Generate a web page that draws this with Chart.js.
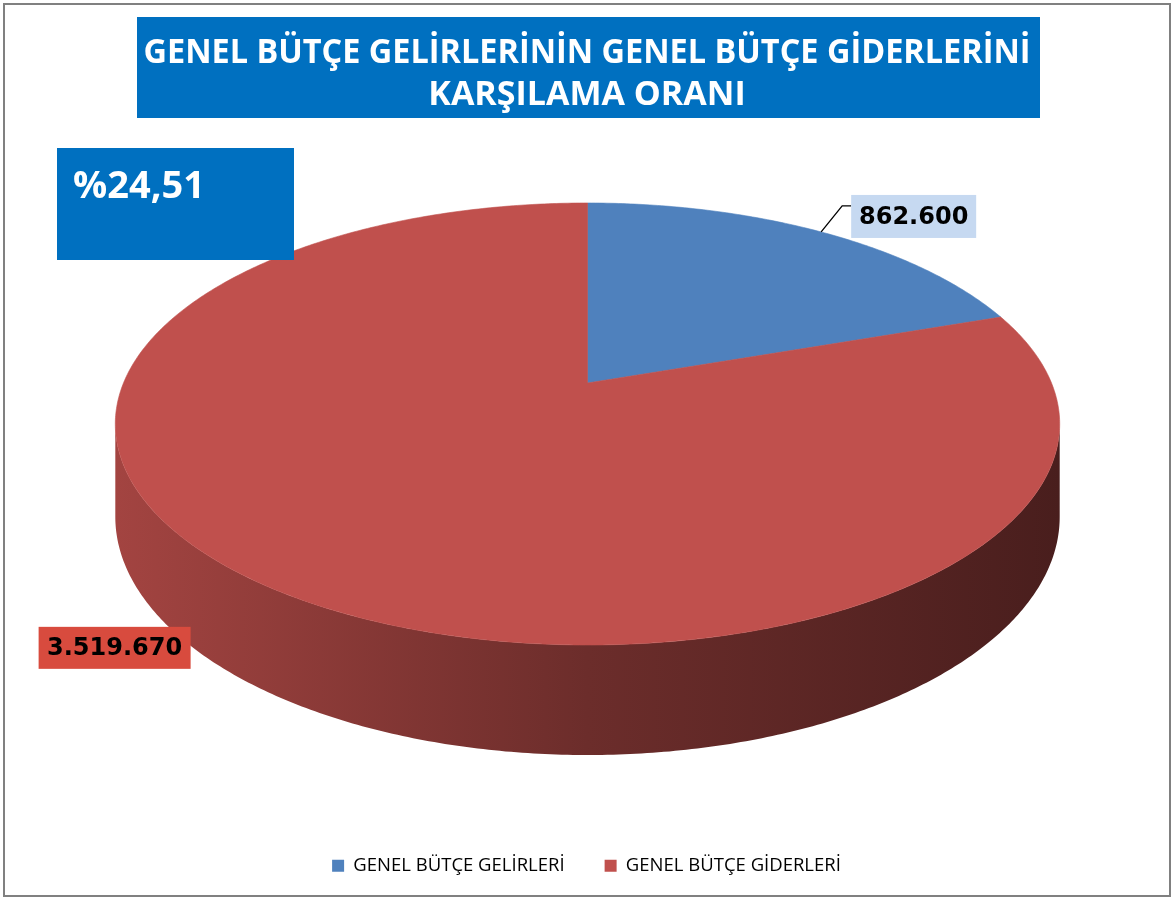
<!DOCTYPE html>
<html>
<head>
<meta charset="utf-8">
<script src="https://cdn.jsdelivr.net/npm/chart.js@4.4.1/dist/chart.umd.min.js"></script>
<style>
  html, body { margin: 0; padding: 0; background: #fff; }
</style>
</head>
<body>
<canvas id="chart" width="1173" height="898"></canvas>
<script>
const titleLines = ['GENEL BÜTÇE GELİRLERİNİN GENEL BÜTÇE GİDERLERİNİ', 'KARŞILAMA ORANI']
const labels = ['GENEL BÜTÇE GELİRLERİ', 'GENEL BÜTÇE GİDERLERİ']
const values = [862600, 3519670]
const colors = ['#4f81bd', '#c0504d']
const labelFills = ['#c6d9f1', '#d84b3e']

// perspective pie geometry
const CX = 587.5
const CY = 383
const RX = 464
const RY = 213.4
const K = 0.1855
const DEPTH = 89.6

const formatTr = (n) => String(n).replace(/\B(?=(\d{3})+(?!\d))/g, '.')

const ratioText = () => '%' + (values[0] / values[1] * 100).toFixed(2).replace('.', ',')

const project = (t, drop) => {
  const u = Math.cos(t)
  const v = Math.sin(t)
  const w = 1 - K * v
  return [CX + RX * u / w, CY + (RY * v + drop) / w]
}

const shade = (hex, f) => {
  const n = parseInt(hex.slice(1), 16)
  const r = Math.round(((n >> 16) & 255) * f)
  const g = Math.round(((n >> 8) & 255) * f)
  const b = Math.round((n & 255) * f)
  return `rgb(${r},${g},${b})`
}

const rimPath = (ctx, a, b, drop, first) => {
  const steps = Math.max(2, Math.ceil(Math.abs(b - a) / 0.01))
  for (let s = 0; s <= steps; s++) {
    const t = a + (b - a) * s / steps
    const p = project(t, drop)
    if (first && s === 0) ctx.moveTo(p[0], p[1])
    else ctx.lineTo(p[0], p[1])
  }
}

const frame = {
  id: 'frame',
  beforeDraw(chart) {
    const ctx = chart.ctx
    ctx.save()
    ctx.fillStyle = '#fff'
    ctx.fillRect(0, 0, chart.width, chart.height)
    ctx.strokeStyle = '#808080'
    ctx.lineWidth = 2
    ctx.strokeRect(4, 4, 1166, 892)

    ctx.fillStyle = '#0070c0'
    ctx.fillRect(137, 17, 903, 101)
    ctx.fillStyle = '#fff'
    ctx.textAlign = 'center'
    ctx.textBaseline = 'alphabetic'
    ctx.font = 'bold 34px "Open Sans"'
    ctx.fillText(titleLines[0], 587, 63, 887)
    ctx.fillText(titleLines[1], 587, 105, 887)
    ctx.restore()
  }
}

const pie3d = {
  id: 'pie3d',
  beforeDatasetsDraw(chart) {
    const ctx = chart.ctx
    const arcs = chart.getDatasetMeta(0).data
    const tR = Math.asin(K)
    const tL = Math.PI - tR
    ctx.save()

    // side walls, only the front part shows
    arcs.forEach((arc, i) => {
      [-2 * Math.PI, 0, 2 * Math.PI].forEach(off => {
        const a = Math.max(arc.startAngle, tR + off)
        const b = Math.min(arc.endAngle, tL + off)
        if (b <= a) return
        const grad = ctx.createLinearGradient(CX - RX * 1.02, 0, CX + RX * 1.02, 0)
        grad.addColorStop(0, shade(colors[i], 0.85))
        grad.addColorStop(0.5, shade(colors[i], 0.56))
        grad.addColorStop(1, shade(colors[i], 0.38))
        ctx.beginPath()
        rimPath(ctx, a, b, 0, true)
        rimPath(ctx, b, a, DEPTH, false)
        ctx.closePath()
        ctx.fillStyle = grad
        ctx.fill()
      })
    })

    // top face
    arcs.forEach((arc, i) => {
      ctx.beginPath()
      ctx.moveTo(CX, CY)
      rimPath(ctx, arc.startAngle, arc.endAngle, 0, false)
      ctx.closePath()
      ctx.fillStyle = colors[i]
      ctx.fill()
      ctx.strokeStyle = colors[i]
      ctx.lineWidth = 0.6
      ctx.stroke()
    })
    ctx.restore()
    return false
  }
}

const labelBoxes = [
  { dx: 30, dy: -37, w: 125, h: 43, leader: true },
  { dx: -232, dy: 39, w: 152, h: 42, leader: false }
]

const dataLabels = {
  id: 'dataLabels',
  afterDraw(chart) {
    const ctx = chart.ctx
    const arcs = chart.getDatasetMeta(0).data
    ctx.save()
    arcs.forEach((arc, i) => {
      const mid = (arc.startAngle + arc.endAngle) / 2
      const p = project(mid, 0)
      const box = labelBoxes[i]
      const bx = p[0] + box.dx
      const by = p[1] + box.dy
      if (box.leader) {
        ctx.beginPath()
        ctx.moveTo(p[0], p[1])
        ctx.lineTo(p[0] + 21, by + 11)
        ctx.lineTo(bx, by + 11)
        ctx.strokeStyle = '#000'
        ctx.lineWidth = 1.3
        ctx.stroke()
      }
      ctx.fillStyle = labelFills[i]
      ctx.fillRect(bx, by, box.w, box.h)
      ctx.fillStyle = '#000'
      ctx.font = 'bold 24px "DejaVu Sans"'
      ctx.textAlign = 'center'
      ctx.textBaseline = 'middle'
      ctx.fillText(formatTr(values[i]), bx + box.w / 2, by + box.h / 2 + 1)
    })

    ctx.fillStyle = '#0070c0'
    ctx.fillRect(57, 148, 237, 112)
    ctx.fillStyle = '#fff'
    ctx.font = 'bold 38px "Open Sans"'
    ctx.textAlign = 'left'
    ctx.textBaseline = 'alphabetic'
    ctx.fillText(ratioText(), 73, 198)
    ctx.restore()
  }
}

new Chart(document.getElementById('chart'), {
  type: 'pie',
  data: {
    labels: labels,
    datasets: [
      {
        data: values,
        backgroundColor: colors,
        borderWidth: 0,
      },
    ],
  },
  options: {
    responsive: false,
    animation: false,
    layout: {
      padding: { top: 150, bottom: 13, left: 100, right: 100 }
    },
    plugins: {
      legend: {
        position: 'bottom',
        labels: {
          boxWidth: 12,
          boxHeight: 12,
          padding: 40,
          color: '#000',
          font: { family: 'Open Sans', size: 18.5 },
        }
      },
      tooltip: { enabled: false },
    },
  },
  plugins: [frame, pie3d, dataLabels],
});
</script>
</body>
</html>
